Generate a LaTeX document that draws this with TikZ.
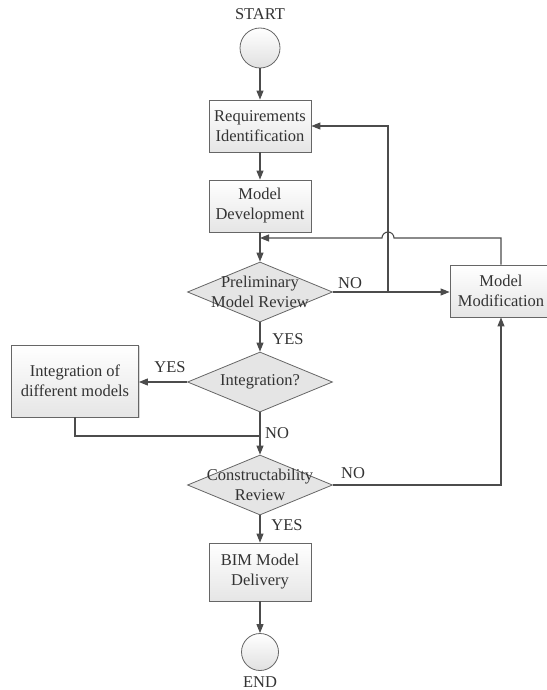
\documentclass[tikz,border=0pt]{standalone}
\usepackage{fontspec}
\setmainfont{Liberation Serif}
\usetikzlibrary{shapes.geometric,arrows.meta,shadows}
\begin{document}
\begin{tikzpicture}[x=1pt,y=-1pt,
    font=\fontsize{16.5}{20}\selectfont,
    line width=1.1pt,
    >={Triangle[length=9pt,width=7pt]},
    every node/.style={text=black!80},
    box/.style={draw=black!60,line width=0.8pt,rectangle,align=center,minimum width=102pt,
      minimum height=52pt,inner sep=2pt,top color=white,bottom color=black!10,
      drop shadow={shadow xshift=1.2pt,shadow yshift=-1.2pt,opacity=0.3}},
    dia/.style={draw=black!60,line width=0.8pt,diamond,minimum width=145pt,minimum height=60pt,
      inner sep=0pt,fill=black!10},
    term/.style={draw=black!60,line width=0.8pt,circle,minimum size=40pt,inner sep=0pt,
      top color=white,bottom color=black!12}]
  \useasboundingbox (0,0) rectangle (546,690);

  \node(START) at(260,14) {START};
  \node[term](Start) at(260,48) {};
  \node[box](Req) at(260,126) {Requirements\\Identification};
  \node[box](Dev) at(260,206) {Model\\Development};
  \node[dia,label={[align=center]center:Preliminary\\Model Review}](Rev) at(260,292) {};
  \node[box](Mod) at(501,291) {Model\\Modification};
  \node[dia,label={center:Integration?}](Int) at(260,382) {};
  \node[box,minimum width=127pt,minimum height=72pt](IntBox) at(75,381) {Integration of\\different models};
  \node[dia,label={[align=center]center:Constructability\\Review}](Con) at(260,485) {};
  \node[box,minimum height=58pt](BIM) at(260,572) {BIM Model\\Delivery};
  \node[term,minimum size=37pt](End) at(260,652) {};
  \node(END) at(260,682) {END};

  \node(NO1)  at(350,283) {NO};
  \node(YES1) at(288,339) {YES};
  \node(YES2) at(170,367) {YES};
  \node(NO2)  at(277,433) {NO};
  \node(NO3)  at(353,473) {NO};
  \node(YES3) at(287,525) {YES};

  \coordinate(J1) at(260,238);
  \coordinate(H1) at(388,238);
  \coordinate(B1) at(388,292);
  \coordinate(J2) at(260,436);

  \foreach \x/\y in{Start/Req, Req/Dev, Dev/Rev, Rev/Int, Int/Con, Con/BIM, BIM/End}{
    \draw[draw=black!70,->](\x)--(\y);
  }
  \draw[draw=black!70,->](Rev.east)--(Rev.east -| Mod.west);
  \draw[draw=black!70,->](B1)|-(Req.east);
  \draw[draw=black!70,->](Mod.north)--(Mod.north |- J1)--([xshift=6pt]H1)
    arc(0:-180:6)--(J1);
  \draw[draw=black!70,->](Int.west)--(Int.west -| IntBox.east);
  \draw[draw=black!70](IntBox.south)|-(J2);
  \draw[draw=black!70,->](Con.east)-|(Mod.south);
\end{tikzpicture}
\end{document}
